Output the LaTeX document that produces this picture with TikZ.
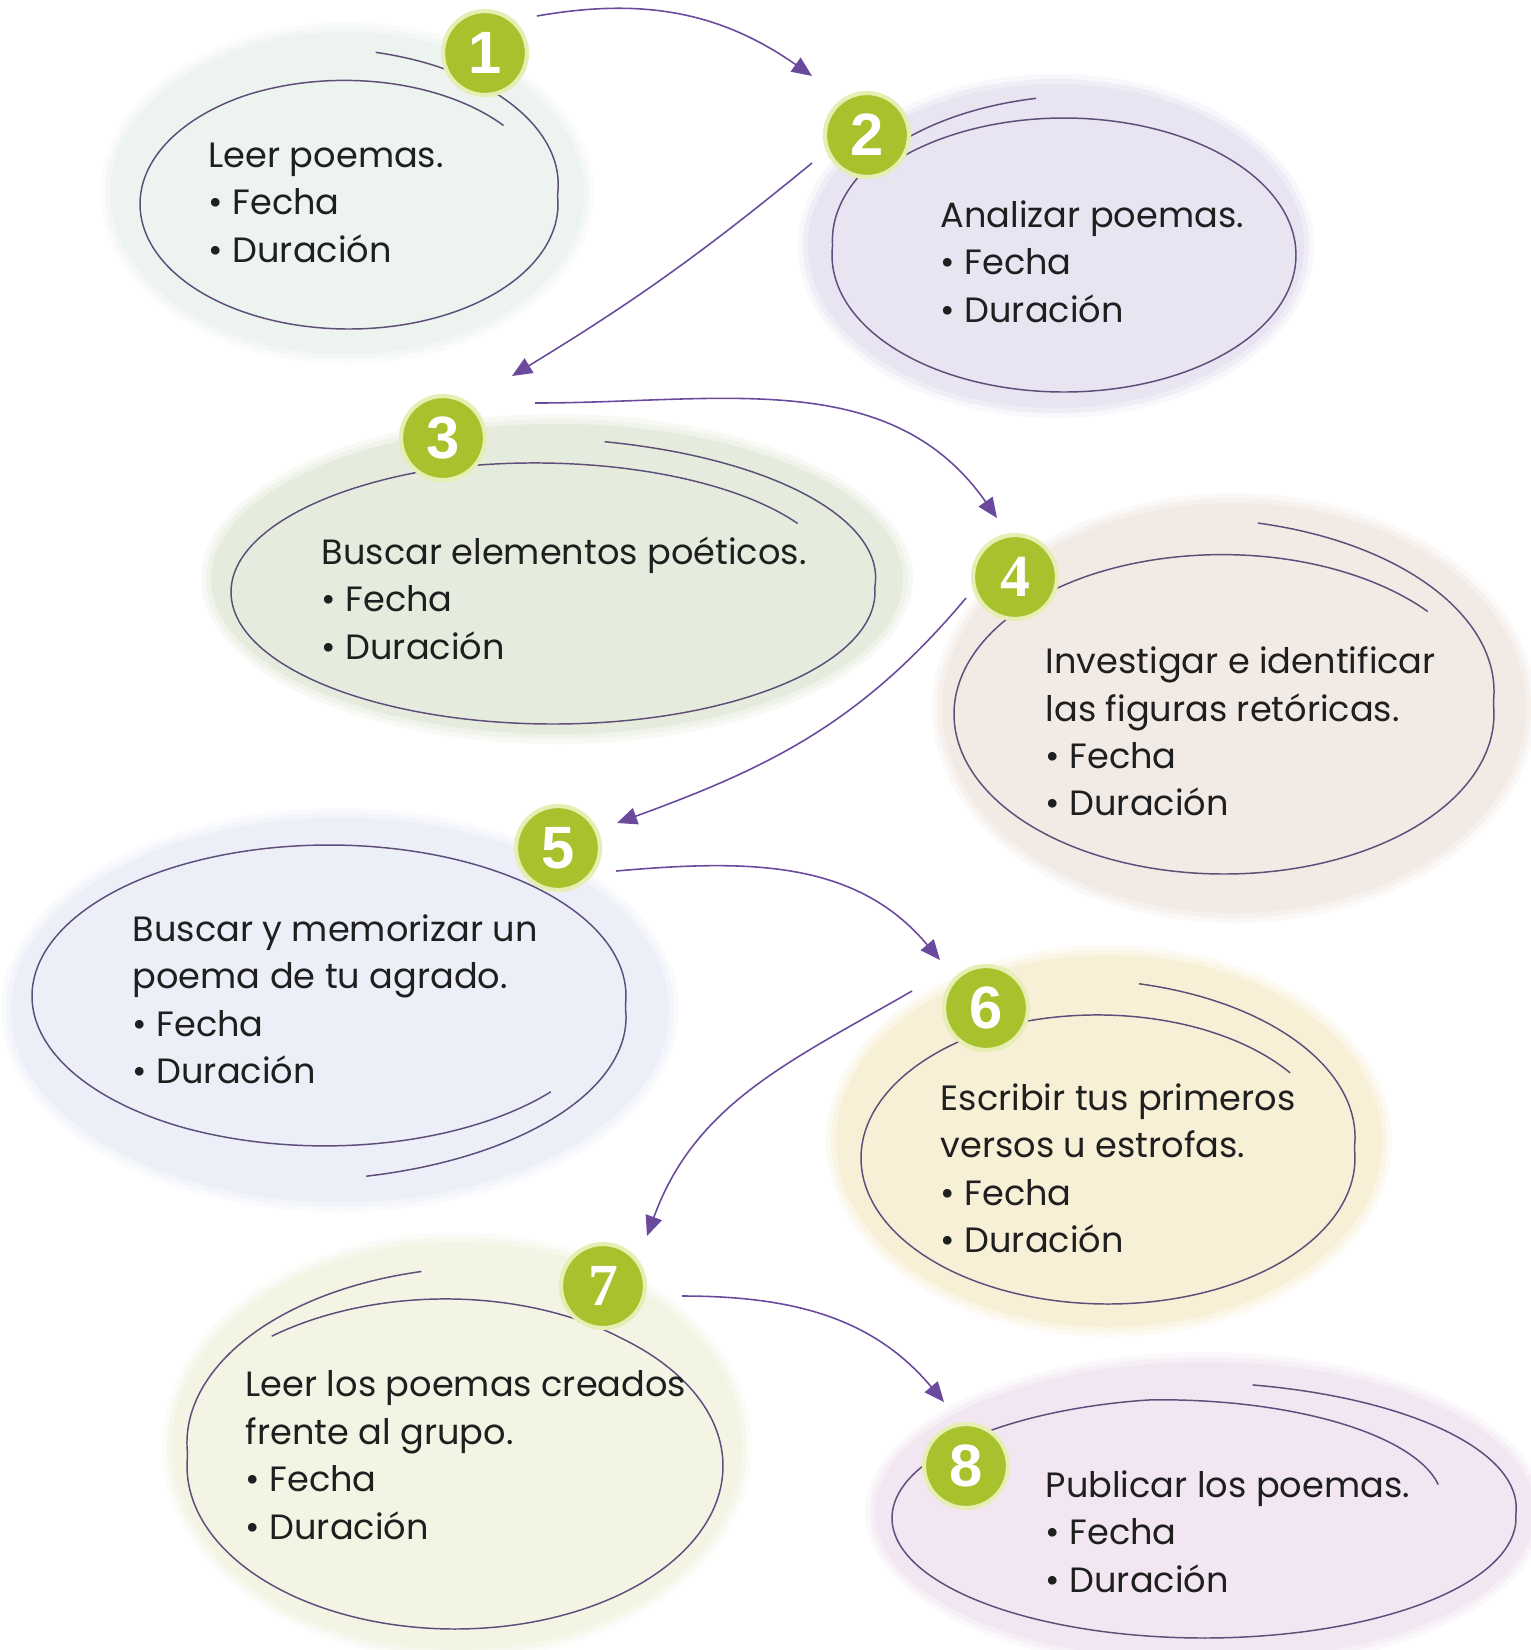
\documentclass[tikz,border=0pt]{standalone}
\usepackage{fontspec}
\setmainfont{Poppins}
\newfontfamily\numsans{Liberation Sans}
\newfontfamily\numserif{Liberation Serif}
\usetikzlibrary{arrows.meta}

\definecolor{ringcol}{HTML}{5E4E7A}
\definecolor{linkcol}{HTML}{6A4A9C}
\definecolor{lime}{HTML}{A7C22C}
\definecolor{limerim}{HTML}{E6EEB4}
\definecolor{bgone}{HTML}{EDF3EF}
\definecolor{bgtwo}{HTML}{E8E4F1}
\definecolor{bgthree}{HTML}{E6ECDD}
\definecolor{bgfour}{HTML}{F2EAE5}
\definecolor{bgfive}{HTML}{ECEFF8}
\definecolor{bgsix}{HTML}{F8F0D6}
\definecolor{bgseven}{HTML}{F3F4E4}
\definecolor{bgeight}{HTML}{F1E6F1}

\tikzset{
  ringline/.style={draw=ringcol, line width=0.42pt},
  num/.style={circle, fill=lime, draw=limerim, line width=1.2pt, minimum size=8.4mm,
    inner sep=0pt, text=white, font=\numsans\bfseries\fontsize{17}{17}\selectfont},
  txt/.style={anchor=north west, align=left, inner sep=0pt, text=black!88,
    font=\fontsize{10}{13.5}\selectfont},
  link/.style={draw=linkcol, line width=0.45pt, -{Triangle[length=2mm,width=1.7mm]}},
}

% soft background patch: centre, x radius, y radius, colour
\newcommand{\blob}[4]{%
  \fill[#4!30!white] (#1) ellipse [x radius=#2+0.10, y radius=#3+0.10];
  \fill[#4!65!white] (#1) ellipse [x radius=#2+0.05, y radius=#3+0.05];
  \fill[#4] (#1) ellipse [x radius=#2, y radius=#3];}

% hand drawn loop: cx, cy, rx, ry, start angle, signed sweep, start scale, end scale
\newcommand{\ring}[8]{%
  \draw[ringline] plot[domain=0:1, samples=220, smooth, variable=\t]
    ({#1+#3*(1+(#7-1)*max(0,1-\t*abs(#6)/80)+(#8-1)*max(0,1-(1-\t)*abs(#6)/80))*cos(#5+(#6)*\t)},
     {#2+#4*(1+(#7-1)*max(0,1-\t*abs(#6)/80)+(#8-1)*max(0,1-(1-\t)*abs(#6)/80))*sin(#5+(#6)*\t)});}

\begin{document}
\begin{tikzpicture}
  \useasboundingbox (0,0) rectangle (15.31,-16.5);

  % patches
  \blob{3.47,-1.93}{2.37}{1.61}{bgone}
  \blob{10.56,-2.46}{2.48}{1.62}{bgtwo}
  \blob{5.57,-5.79}{3.46}{1.55}{bgthree}
  \blob{12.34,-7.08}{2.92}{2.05}{bgfour}
  \blob{3.40,-10.10}{3.29}{1.92}{bgfive}
  \blob{11.09,-11.41}{2.73}{1.86}{bgsix}
  \blob{4.57,-14.46}{2.85}{2.04}{bgseven}
  \blob{12.05,-15.12}{3.30}{1.50}{bgeight}

  % loops
  \ring{3.49}{-2.04}{2.09}{1.25}{84}{-404}{1.22}{0.97}
  \ring{10.64}{-2.55}{2.32}{1.37}{96}{399}{1.15}{1.0}
  \ring{5.53}{-5.92}{3.22}{1.32}{82}{-408}{1.15}{0.92}
  \ring{12.24}{-7.14}{2.70}{1.60}{84}{-404}{1.2}{0.99}
  \ring{3.29}{-9.96}{2.97}{1.51}{276}{404}{1.2}{0.98}
  \ring{11.08}{-11.58}{2.47}{1.46}{84}{-406}{1.2}{0.94}
  \ring{4.55}{-14.66}{2.68}{1.63}{96}{395}{1.2}{1.05}
  \ring{12.04}{-15.18}{3.12}{1.20}{82}{-422}{1.12}{0.8}

  % step numbers
  \node[num] (n1) at (4.85,-0.53) {1};
  \node[num] (n2) at (8.67,-1.35) {2};
  \node[num] (n3) at (4.43,-4.38) {3};
  \node[num] (n4) at (10.15,-5.77) {\numserif 4};
  \node[num] (n5) at (5.58,-8.48) {5};
  \node[num] (n6) at (9.86,-10.08) {6};
  \node[num] (n7) at (6.03,-12.86) {\numserif 7};
  \node[num] (n8) at (9.66,-14.66) {8};

  % texts
  \node[txt] (t1) at (2.08,-1.42) {Leer poemas.\\• Fecha\\• Duración};
  \node[txt] (t2) at (9.40,-2.00) {Analizar poemas.\\• Fecha\\• Duración};
  \node[txt] (t3) at (3.21,-5.36) {Buscar elementos poéticos.\\• Fecha\\• Duración};
  \node[txt] (t4) at (10.45,-6.46) {Investigar e identificar\\las figuras retóricas.\\• Fecha\\• Duración};
  \node[txt] (t5) at (1.32,-9.14) {Buscar y memorizar un\\poema de tu agrado.\\• Fecha\\• Duración};
  \node[txt] (t6) at (9.40,-10.83) {Escribir tus primeros\\versos u estrofas.\\• Fecha\\• Duración};
  \node[txt] (t7) at (2.45,-13.70) {Leer los poemas creados\\frente al grupo.\\• Fecha\\• Duración};
  \node[txt] (t8) at (10.45,-14.70) {Publicar los poemas.\\• Fecha\\• Duración};

  % arrow ends
  \coordinate (s1) at (5.37,-0.16);  \coordinate (e1) at (8.12,-0.76);
  \coordinate (s2) at (8.12,-1.63);  \coordinate (e2) at (5.12,-3.76);
  \coordinate (s3) at (5.35,-4.03);  \coordinate (e3) at (9.97,-5.18);
  \coordinate (s4) at (9.66,-5.98);  \coordinate (e4) at (6.17,-8.23);
  \coordinate (s5) at (6.16,-8.71);  \coordinate (e5) at (9.40,-9.60);
  \coordinate (s6) at (9.12,-9.91);  \coordinate (e6) at (6.47,-12.36);
  \coordinate (s7) at (6.82,-12.96); \coordinate (e7) at (9.44,-14.02);

  \draw[link] (s1) to[out=10, in=145] (e1);
  \draw[link] (s2) to[bend left=4] (e2);
  \draw[link] (s3) to[out=0, in=125] (e3);
  \draw[link] (s4) to[out=230, in=20] (e4);
  \draw[link] (s5) to[out=5, in=130] (e5);
  \draw[link] (s6) to[out=210, in=70] (e6);
  \draw[link] (s7) to[out=0, in=130] (e7);
\end{tikzpicture}
\end{document}
